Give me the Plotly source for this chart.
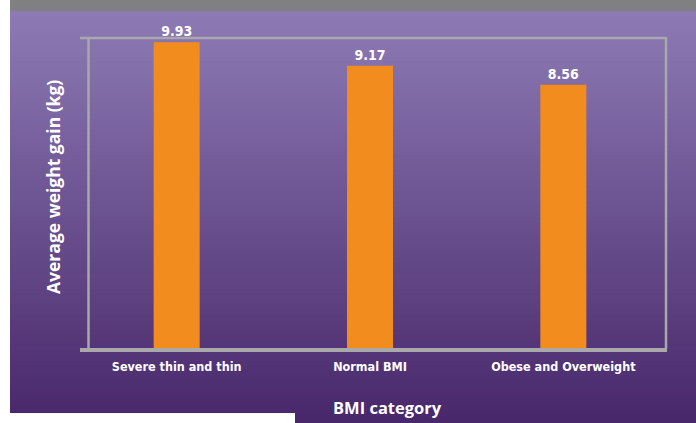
import plotly.graph_objects as go

categories = ["Severe thin and thin", "Normal BMI", "Obese and Overweight"]
weight_gain = [9.93, 9.17, 8.56]
y_title = "Average weight gain (kg)"
x_title = "BMI category"

W, H = 696, 423
L, R, T, B = 80, 660, 38, 349
PW, PH = R - L, B - T
COND = "DejaVu Sans Condensed"


def px(x):
    return (x - L) / PW


def py(y):
    return (B - y) / PH


shapes = []
# gray top band
shapes.append(dict(type="rect", xref="paper", yref="paper", x0=px(10), x1=px(696), y0=py(0), y1=py(11.5),
                   fillcolor="#808082", line=dict(width=0), layer="below"))
# purple gradient background (each band runs to the bottom to avoid seams)
top_c = (141, 123, 181)
bot_c = (72, 39, 106)
y_start, y_end = 11, 423
N = 80
h = (y_end - y_start) / N
for i in range(N):
    t = (i + 0.5) / N
    c = tuple(round(top_c[k] + (bot_c[k] - top_c[k]) * t) for k in range(3))
    y0 = y_start + i * h
    shapes.append(dict(type="rect", xref="paper", yref="paper", x0=px(10), x1=px(696), y0=py(y_end), y1=py(y0),
                       fillcolor="rgb(%d,%d,%d)" % c, line=dict(width=0), layer="below"))
# white cut-out at lower left
shapes.append(dict(type="rect", xref="paper", yref="paper", x0=px(0), x1=px(295), y0=py(424), y1=py(413),
                   fillcolor="white", line=dict(width=0), layer="below"))

frame = "#a9a9ab"
shapes.append(dict(type="line", xref="paper", yref="paper", x0=px(80), x1=px(667), y0=py(38), y1=py(38),
                   line=dict(color=frame, width=2.5), layer="below"))
shapes.append(dict(type="line", xref="paper", yref="paper", x0=px(88.5), x1=px(88.5), y0=py(38), y1=py(349),
                   line=dict(color=frame, width=2.5), layer="below"))
shapes.append(dict(type="line", xref="paper", yref="paper", x0=px(666), x1=px(666), y0=py(38), y1=py(349),
                   line=dict(color=frame, width=2.5), layer="below"))
shapes.append(dict(type="line", xref="paper", yref="paper", x0=px(80), x1=px(667), y0=py(350), y1=py(350),
                   line=dict(color=frame, width=4), layer="above"))

fig = go.Figure(go.Bar(
    x=categories, y=weight_gain,
    marker=dict(color="#f28c1f", line=dict(width=0)),
    texttemplate="%{y:.2f}", textposition="outside", cliponaxis=False,
    textfont=dict(family=COND, size=14, color="white", weight="bold"),
))

annotations = [
    dict(text=y_title, xref="paper", yref="paper", x=px(53), y=py(187), showarrow=False, textangle=-90,
         font=dict(family="Open Sans", size=17.5, color="white", weight="bold"), xanchor="center", yanchor="middle"),
    dict(text=x_title, xref="paper", yref="paper", x=px(387), y=py(407), showarrow=False,
         font=dict(family="Open Sans", size=16.5, color="white", weight="bold"), xanchor="center", yanchor="middle"),
]

fig.update_layout(
    width=W, height=H,
    margin=dict(l=L, r=W - R, t=T, b=H - B, pad=0),
    paper_bgcolor="white", plot_bgcolor="rgba(0,0,0,0)",
    showlegend=False, bargap=0.762,
    shapes=shapes, annotations=annotations,
    xaxis=dict(showgrid=False, zeroline=False, showline=False, ticks="outside", ticklen=6,
               tickcolor="rgba(0,0,0,0)",
               tickfont=dict(family=COND, size=12.5, color="white", weight="bold"),
               fixedrange=True),
    yaxis=dict(range=[0, 10.07], showgrid=False, zeroline=False, showline=False, showticklabels=False,
               ticks="", fixedrange=True),
)

fig.write_html("out.html")
